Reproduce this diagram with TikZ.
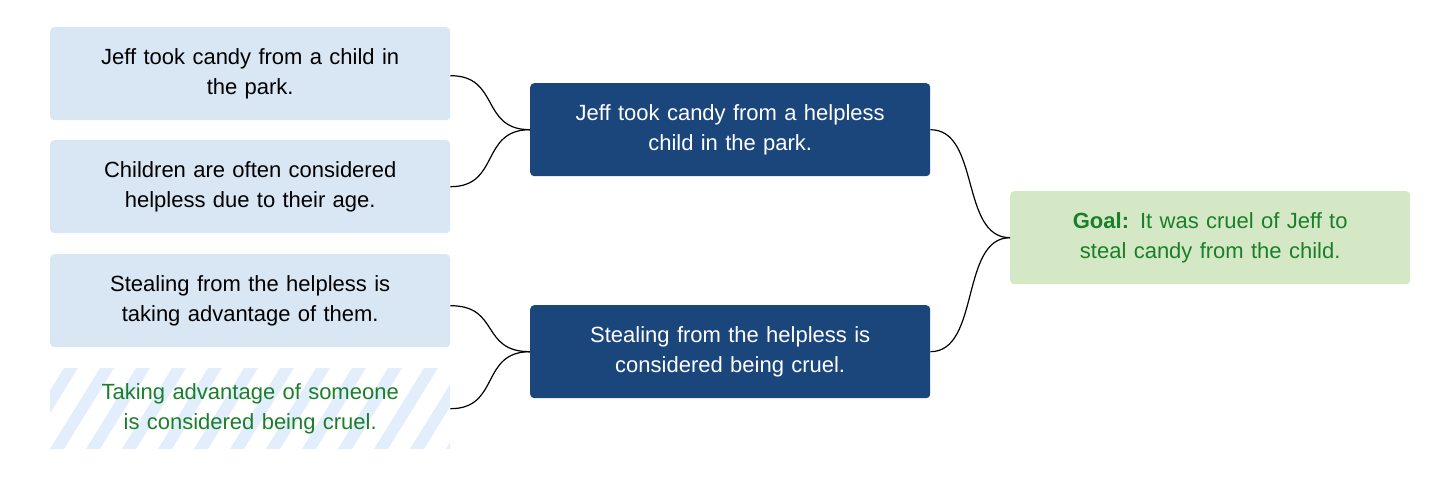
\documentclass[tikz,border=0pt]{standalone}
\usepackage{fontspec}
\setmainfont{Liberation Sans}
\definecolor{lb}{HTML}{D9E6F4}
\definecolor{db}{HTML}{1B467C}
\definecolor{gb}{HTML}{D5E8C5}
\definecolor{gt}{HTML}{1A7F2A}
\definecolor{hb}{HTML}{E2EEFC}
\begin{document}
\begin{tikzpicture}[x=1pt,y=-1pt,
  box/.style={rounded corners=4pt,minimum width=400pt,minimum height=93pt,align=center,text width=380pt,font=\fontsize{22}{30}\selectfont,anchor=north west,inner sep=0pt},
  lbox/.style={box,fill=lb,text=black},
  dbox/.style={box,fill=db,text=white},
  gbox/.style={box,fill=gb,text=gt},
  con/.style={draw=black,line width=1.2pt}]
\useasboundingbox (0,0) rectangle (1430,484);
\node[lbox] (a) at (50,27) {Jeff took candy from a child in\\the park.};
\node[lbox] (b) at (50,140) {Children are often considered\\helpless due to their age.};
\node[lbox] (c) at (50,254) {Stealing from the helpless is\\taking advantage of them.};
\begin{scope}
\clip (50,368) rectangle (450,449);
\foreach \i in {-3,...,13}{
  \fill[hb] (50+\i*36,449) -- (50+\i*36+14,449) -- (50+\i*36+14+50,368) -- (50+\i*36+50,368) -- cycle;}
\end{scope}
\node[box,minimum height=81pt,text=gt] (d) at (50,368) {Taking advantage of someone\\is considered being cruel.};
\node[dbox] (m1) at (530,83) {Jeff took candy from a helpless\\child in the park.};
\node[dbox] (m2) at (530,305) {Stealing from the helpless is\\considered being cruel.};
\node[gbox] (g) at (1010,191) {\textbf{Goal:} It was cruel of Jeff to\\steal candy from the child.};
\draw[con] ([yshift=-2pt]a.east) .. controls +(50,0) and +(-50,0) .. (m1.west);
\draw[con] (b.east) .. controls +(50,0) and +(-50,0) .. (m1.west);
\draw[con] ([yshift=-5pt]c.east) .. controls +(50,0) and +(-50,0) .. (m2.west);
\draw[con] (d.east) .. controls +(50,0) and +(-50,0) .. (m2.west);
\draw[con] (m1.east) .. controls +(50,0) and +(-50,0) .. (g.west);
\draw[con] (m2.east) .. controls +(50,0) and +(-50,0) .. (g.west);
\end{tikzpicture}
\end{document}
